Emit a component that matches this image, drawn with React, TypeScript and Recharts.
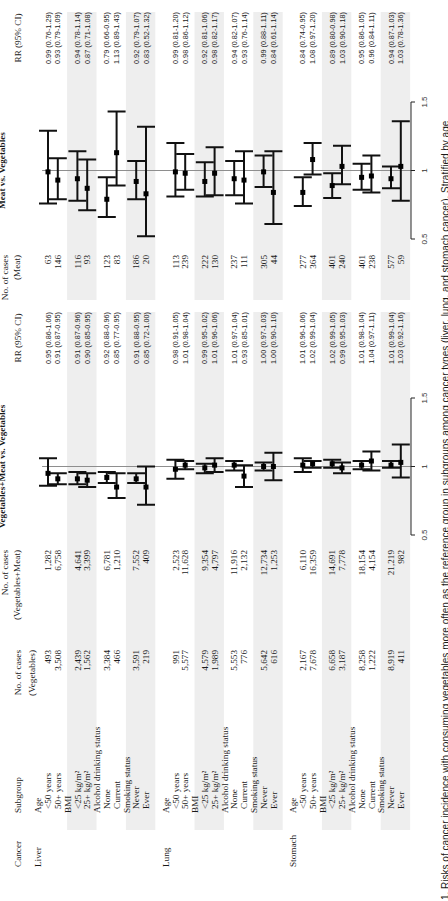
import React from "react";
import {
  ComposedChart,
  Scatter,
  XAxis,
  YAxis,
  ErrorBar,
  ReferenceArea,
  ReferenceLine,
} from "recharts";

// ---------- data ----------
const cancers = ["Liver", "Lung", "Stomach"];
const groupNames = ["Age", "BMI", "Alcohol drinking status", "Smoking status"];
const subgroupLabels = [
  "<50 years",
  "50+ years",
  "<25 kg/m²",
  "25+ kg/m²",
  "None",
  "Current",
  "Never",
  "Ever",
];

// cases per cancer (rows follow subgroupLabels)
const vegCases = [
  [493, 3508, 2439, 1562, 3384, 466, 3591, 219],
  [991, 5577, 4579, 1989, 5553, 776, 5642, 616],
  [2167, 7678, 6658, 3187, 8258, 1222, 8919, 411],
];
const vegMeatCases = [
  [1282, 6758, 4641, 3399, 6781, 1210, 7552, 409],
  [2523, 11628, 9354, 4797, 11916, 2132, 12734, 1253],
  [6110, 16359, 14691, 7778, 18154, 4154, 21219, 982],
];
const meatCases = [
  [63, 146, 116, 93, 123, 83, 186, 20],
  [113, 239, 222, 130, 237, 111, 305, 44],
  [277, 364, 401, 240, 401, 238, 577, 59],
];

// Vegetables+Meat vs. Vegetables
const vmRR = [
  [0.95, 0.91, 0.91, 0.9, 0.92, 0.85, 0.91, 0.85],
  [0.98, 1.01, 0.99, 1.01, 1.01, 0.93, 1.0, 1.0],
  [1.01, 1.02, 1.02, 0.99, 1.01, 1.04, 1.01, 1.03],
];
const vmLow = [
  [0.86, 0.87, 0.87, 0.85, 0.88, 0.77, 0.88, 0.72],
  [0.91, 0.98, 0.95, 0.96, 0.97, 0.85, 0.97, 0.9],
  [0.96, 0.99, 0.99, 0.95, 0.98, 0.97, 0.99, 0.92],
];
const vmHigh = [
  [1.06, 0.95, 0.96, 0.95, 0.96, 0.95, 0.95, 1.0],
  [1.05, 1.04, 1.02, 1.06, 1.04, 1.01, 1.03, 1.1],
  [1.06, 1.04, 1.05, 1.03, 1.04, 1.11, 1.04, 1.16],
];

// Meat vs. Vegetables
const mRR = [
  [0.99, 0.93, 0.94, 0.87, 0.79, 1.13, 0.92, 0.83],
  [0.99, 0.98, 0.92, 0.98, 0.94, 0.93, 0.99, 0.84],
  [0.84, 1.08, 0.89, 1.03, 0.95, 0.96, 0.94, 1.03],
];
const mLow = [
  [0.76, 0.79, 0.78, 0.71, 0.66, 0.89, 0.79, 0.52],
  [0.81, 0.86, 0.81, 0.82, 0.82, 0.76, 0.88, 0.61],
  [0.74, 0.97, 0.8, 0.9, 0.86, 0.84, 0.87, 0.78],
];
const mHigh = [
  [1.29, 1.09, 1.14, 1.08, 0.95, 1.43, 1.07, 1.32],
  [1.2, 1.12, 1.06, 1.17, 1.07, 1.14, 1.11, 1.14],
  [0.95, 1.2, 0.98, 1.18, 1.05, 1.11, 1.03, 1.36],
];

const rrTicks = [0.5, 1, 1.5];

const captionText =
  "1. Risks of cancer incidence with consuming vegetables more often as the reference group in subgroups among cancer types (liver, lung, and stomach cancer). Stratified by age";

// ---------- layout ----------
const W = 901;
const H = 448;
const ROW0 = 48; // pixel position of row slot 0
const STEP = 9.8; // pixels per row slot
const HEAD_POS = -4.5;
const PLOT_TOP_POS = -0.6;
const AXIS_POS = 37.04;
const XAXIS_H = 30;
const vOf = (pos: number) => ROW0 + STEP * pos;

const SERIF = "'Liberation Serif', 'Times New Roman', serif";
const SANS = "'Liberation Sans', Arial, sans-serif";
const INK = "#1a1a1a";
const BAND = "#eeeeee";

const COL = {
  cancer: 34,
  group: 88,
  sub: 92,
  veg: 251,
  vegMeat: 351,
  rr1: 563,
  meat: 646,
  rr2: 863,
};
const BAND_LEFT = 71;
const BAND_RIGHT = 889;
const GAP_FROM = 589;
const GAP_TO = 601;

const PLOT_W = 137;
const PLOT_PAD = 10;
const PLOT1_LEFT = 366;
const PLOT2_LEFT = 662;

// ---------- row structure ----------
type Row = {
  pos: number;
  kind: "group" | "sub";
  cancer?: string;
  label: string;
  s: number;
  i: number;
};

const rows: Row[] = [];
cancers.forEach((c, s) => {
  groupNames.forEach((gName, g) => {
    rows.push({
      pos: 13 * s + 3 * g - 1,
      kind: "group",
      cancer: g === 0 ? c : undefined,
      label: gName,
      s,
      i: -1,
    });
    [0, 1].forEach((r) => {
      const i = 2 * g + r;
      rows.push({ pos: 13 * s + 3 * g + r, kind: "sub", label: subgroupLabels[i], s, i });
    });
  });
});
const rowByPos = new Map<number, Row>(rows.map((r) => [r.pos, r]));
const tableTicks = [HEAD_POS, ...rows.map((r) => r.pos)];

const bands = cancers.flatMap((_, s) =>
  [1, 3].map((g) => ({ y1: 13 * s + 3 * g - 1.05, y2: 13 * s + 3 * g + 1.95 }))
);

const fmtRR = (a: number, b: number, c: number) =>
  `${a.toFixed(2)} (${b.toFixed(2)}-${c.toFixed(2)})`;
const fmtN = (n: number) => n.toLocaleString("en-US");

const forestData = (rr: number[][], lo: number[][], hi: number[][]) =>
  rows
    .filter((r) => r.kind === "sub")
    .map((r) => {
      const v = rr[r.s][r.i];
      return { pos: r.pos, rr: v, err: [v - lo[r.s][r.i], hi[r.s][r.i] - v] };
    });

const vmData = forestData(vmRR, vmLow, vmHigh);
const mData = forestData(mRR, mLow, mHigh);

// ---------- pieces ----------
const serifText = { fontFamily: SERIF, fontSize: 9.2, fill: INK };
const sansText = { fontFamily: SANS, fontSize: 7.3, fill: INK };

const HeaderBlock = ({ top }: { top: number }) => {
  const at = (v: number) => v - top;
  return (
    <g transform={`translate(0, ${top})`}>
      <text x={COL.cancer} y={at(21)} {...serifText}>Cancer</text>
      <text x={COL.group} y={at(21)} {...serifText}>Subgroup</text>
      <text x={COL.veg} y={at(21)} textAnchor="end" {...serifText}>No. of cases</text>
      <text x={COL.veg} y={at(35)} textAnchor="end" {...serifText}>(Vegetables)</text>
      <text x={COL.vegMeat} y={at(8)} textAnchor="end" {...serifText}>No. of cases</text>
      <text x={COL.vegMeat} y={at(20)} textAnchor="end" {...serifText}>(Vegetables+Meat)</text>
      <text x={PLOT1_LEFT + PLOT_W / 2} y={at(5)} textAnchor="middle" {...serifText} fontWeight="bold">
        Vegetables+Meat vs. Vegetables
      </text>
      <text x={COL.rr1} y={at(21)} textAnchor="middle" {...serifText}>RR (95% CI)</text>
      <text x={COL.meat} y={at(8)} textAnchor="end" {...serifText}>No. of cases</text>
      <text x={COL.meat} y={at(20)} textAnchor="end" {...serifText}>(Meat)</text>
      <text x={PLOT2_LEFT + PLOT_W / 2} y={at(5)} textAnchor="middle" {...serifText} fontWeight="bold">
        Meat vs. Vegetables
      </text>
      <text x={COL.rr2} y={at(21)} textAnchor="middle" {...serifText}>RR (95% CI)</text>
    </g>
  );
};

const RowTick = (props: any) => {
  const { y, payload } = props;
  if (payload.value === HEAD_POS) return <HeaderBlock top={y} />;
  const row = rowByPos.get(payload.value);
  if (!row) return <g />;
  if (row.kind === "group") {
    return (
      <g>
        {row.cancer && (
          <text x={COL.cancer} y={y} dy="0.35em" {...serifText}>{row.cancer}</text>
        )}
        <text x={COL.group} y={y} dy="0.35em" {...serifText}>{row.label}</text>
      </g>
    );
  }
  const { s, i } = row;
  return (
    <g>
      <text x={COL.sub} y={y} dy="0.35em" {...serifText}>{row.label}</text>
      <text x={COL.veg} y={y} dy="0.35em" textAnchor="end" {...serifText}>{fmtN(vegCases[s][i])}</text>
      <text x={COL.vegMeat} y={y} dy="0.35em" textAnchor="end" {...serifText}>{fmtN(vegMeatCases[s][i])}</text>
      <text x={COL.rr1} y={y} dy="0.35em" textAnchor="middle" {...sansText}>
        {fmtRR(vmRR[s][i], vmLow[s][i], vmHigh[s][i])}
      </text>
      <text x={COL.meat} y={y} dy="0.35em" textAnchor="end" {...serifText}>{fmtN(meatCases[s][i])}</text>
      <text x={COL.rr2} y={y} dy="0.35em" textAnchor="middle" {...sansText}>
        {fmtRR(mRR[s][i], mLow[s][i], mHigh[s][i])}
      </text>
    </g>
  );
};

const BandShape = (p: any) => (
  <g>
    <rect x={p.x} y={p.y} width={GAP_FROM - p.x} height={p.height} fill={BAND} />
    <rect x={GAP_TO} y={p.y} width={p.x + p.width - GAP_TO} height={p.height} fill={BAND} />
  </g>
);

const SquareDot = (p: any) => (
  <rect x={p.cx - 2.5} y={p.cy - 2.5} width={5} height={5} fill="#000" />
);

const TableChart = () => (
  <ComposedChart
    width={W}
    height={H}
    data={rows}
    margin={{ top: vOf(HEAD_POS), bottom: H - vOf(AXIS_POS), left: BAND_LEFT - 1, right: W - BAND_RIGHT }}
  >
    <XAxis type="number" domain={[0, 1]} hide />
    <YAxis
      type="number"
      dataKey="pos"
      domain={[HEAD_POS, AXIS_POS]}
      reversed
      allowDataOverflow
      ticks={tableTicks}
      interval={0}
      tick={<RowTick />}
      axisLine={false}
      tickLine={false}
      width={1}
    />
    {bands.map((b, k) => (
      <ReferenceArea key={k} y1={b.y1} y2={b.y2} shape={<BandShape />} ifOverflow="visible" />
    ))}
  </ComposedChart>
);

const ForestChart = ({ data, left }: { data: any[]; left: number }) => (
  <div style={{ position: "absolute", left: left - PLOT_PAD, top: 0 }}>
    <ComposedChart
      width={PLOT_W + 2 * PLOT_PAD}
      height={H}
      data={data}
      margin={{
        top: vOf(PLOT_TOP_POS),
        bottom: H - vOf(AXIS_POS) - XAXIS_H,
        left: PLOT_PAD,
        right: PLOT_PAD,
      }}
    >
      <XAxis
        type="number"
        dataKey="rr"
        domain={[0.5, 1.5]}
        ticks={rrTicks}
        interval={0}
        height={XAXIS_H}
        tickSize={4}
        tickMargin={6}
        stroke="#222"
        tick={{ fontFamily: SANS, fontSize: 8, fill: "#333" }}
        tickFormatter={(v: number) => String(v)}
      />
      <YAxis type="number" dataKey="pos" domain={[PLOT_TOP_POS, AXIS_POS]} reversed hide />
      <ReferenceLine x={1} stroke="#8e8e8e" strokeWidth={1} />
      <Scatter data={data} dataKey="rr" shape={<SquareDot />} isAnimationActive={false}>
        <ErrorBar
          dataKey="err"
          direction="x"
          width={9}
          stroke="#111"
          strokeWidth={2}
          isAnimationActive={false}
        />
      </Scatter>
    </ComposedChart>
  </div>
);

export default function App() {
  return (
    <div
      style={{
        position: "fixed",
        left: 0,
        top: 0,
        width: H,
        height: W,
        overflow: "hidden",
        background: "#fff",
      }}
    >
      <div
        style={{
          position: "absolute",
          left: 0,
          top: 0,
          width: W,
          height: H,
          transformOrigin: "0 0",
          transform: `translate(0px, ${W}px) rotate(-90deg)`,
        }}
      >
        <div style={{ position: "absolute", left: 0, top: 0 }}>
          <TableChart />
        </div>
        <ForestChart data={vmData} left={PLOT1_LEFT} />
        <ForestChart data={mData} left={PLOT2_LEFT} />
        <div
          style={{
            position: "absolute",
            left: 1,
            top: 441,
            whiteSpace: "nowrap",
            fontFamily: SANS,
            fontSize: 10,
            lineHeight: "10px",
            color: INK,
          }}
        >
          {captionText}
        </div>
      </div>
    </div>
  );
}
